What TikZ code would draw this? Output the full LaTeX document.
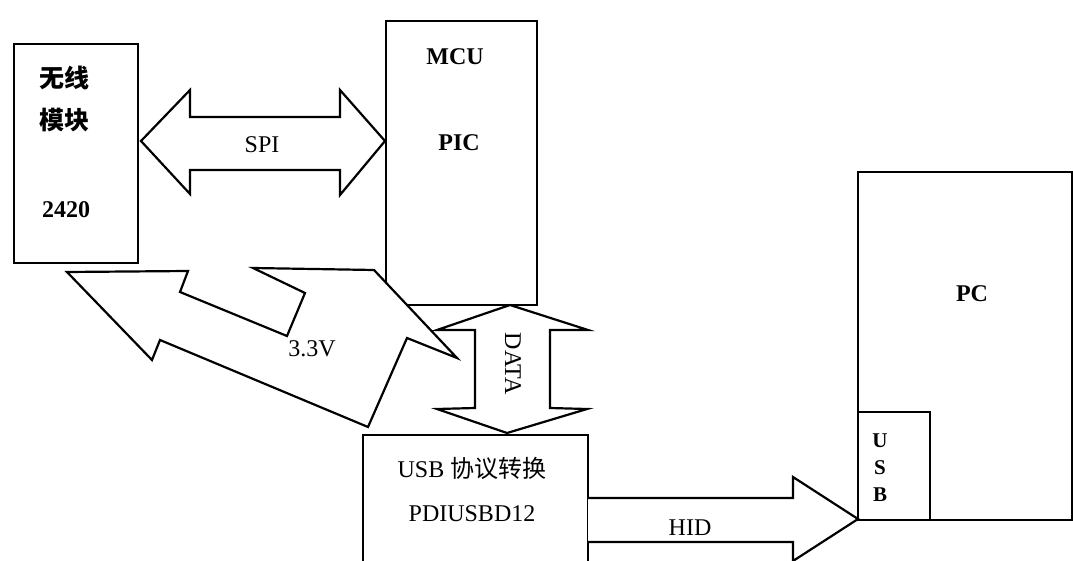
\documentclass[tikz,border=0pt]{standalone}
\usepackage{fontspec}
\setmainfont{Liberation Serif}
\newfontfamily\cjk{Noto Sans CJK SC}
\begin{document}
\begin{tikzpicture}[x=1pt,y=-1pt, line width=2.2pt, line join=miter,
  box/.style={draw, rectangle, inner sep=0pt, fill=white},
  lbl/.style={font=\fontsize{24}{24}\selectfont, inner sep=0pt},
  blbl/.style={font=\bfseries\fontsize{24}{24}\selectfont, inner sep=0pt},
  cjklbl/.style={font=\cjk\bfseries\fontsize{25}{25}\selectfont, inner sep=0pt},
  blockarrow/.style={draw, fill=white, line join=miter}]
\path[use as bounding box] (0,0) rectangle (1073,561);
\clip (0,0) rectangle (1073,561);

% boxes
\node[box, minimum width=124pt, minimum height=219pt] (wl) at (76,153.5) {};
\node[box, minimum width=151pt, minimum height=284pt] (mcu) at (461.5,163) {};
\node[box, minimum width=214pt, minimum height=348pt] (pc) at (965,346) {};
\node[box, minimum width=72pt, minimum height=108pt] (usb) at (894,466) {};
\node[box, minimum width=225pt, minimum height=165pt] (conv) at (475.5,517.5) {};

% SPI double arrow
\draw[blockarrow] (141,141) -- (190,90) -- (190,117) -- (340,117) -- (340,90)
  -- (385,141) -- (340,195) -- (340,170) -- (190,170) -- (190,194) -- cycle;

% 3.3V zig-zag arrow
\draw[blockarrow] (67,272) -- (188,271) -- (180,292) -- (287,336) -- (305,293)
  -- (253,268) -- (374,270) -- (457,358) -- (407,338) -- (368,427)
  -- (160,340) -- (152,360) -- cycle;

% DATA double arrow
\draw[blockarrow] (510,305) -- (588,330) -- (550,330) -- (550,408) -- (587,409)
  -- (507,433) -- (437,409) -- (475,408) -- (475,330) -- (437,330) -- cycle;

% HID arrow
\draw[blockarrow] (588,498) -- (793,498) -- (793,477) -- (858,519) -- (793,561)
  -- (793,542) -- (588,542);

% texts
\node[cjklbl] (t1) at (64,78) {无线};
\node[cjklbl] (t2) at (64,120) {模块};
\node[blbl] (t3) at (66,210) {2420};
\node[blbl] (t4) at (455,57) {MCU};
\node[blbl] (t5) at (459,143) {PIC};
\node[lbl] (t6) at (262,145) {SPI};
\node[lbl] (t7) at (312,349) {3.3V};
\node[lbl, rotate=-90] (t8) at (513,364) {DATA};
\node[lbl] (t9) at (472,468) {USB {\cjk 协议转换}};
\node[lbl] (t10) at (472,514) {PDIUSBD12};
\node[lbl] (t11) at (690,528) {HID};
\node[blbl] (t12) at (972,294) {PC};
\node[font=\bfseries\fontsize{21}{27}\selectfont, inner sep=0pt, align=center] (t13) at (880,468) {U\\S\\B};
\end{tikzpicture}
\end{document}
